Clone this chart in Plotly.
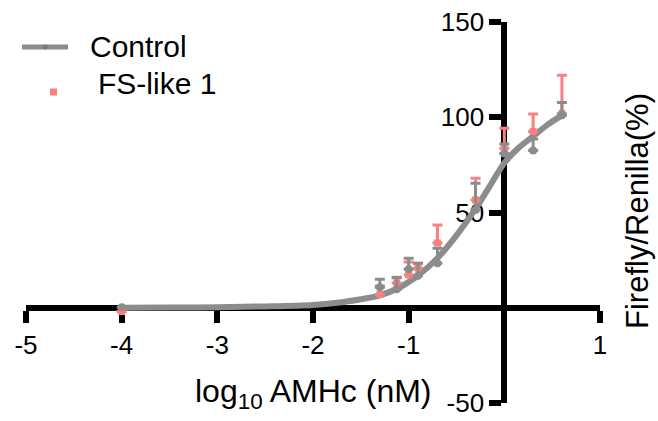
import plotly.graph_objects as go

# ---- data ----
log_conc = [-4.0, -1.301, -1.125, -1.0, -0.903, -0.699, -0.301, 0.0, 0.301, 0.602]
control_mean = [0.3, 10.7, 9.7, 20.2, 16.8, 23.3, 51.3, 81.0, 82.5, 101.0]
control_err = [0.0, 4.2, 6.1, 5.8, 6.5, 7.9, 14.0, 5.0, 6.1, 6.7]
fs_mean = [-2.0, 7.0, 13.0, 17.2, 20.8, 34.0, 56.6, 83.7, 92.5, 102.0]
fs_err = [0.0, 4.4, 3.0, 6.8, 2.5, 9.4, 11.4, 10.5, 9.2, 20.0]

# fitted curve
fit_x = [-4.0, -3.5, -3.0, -2.5, -2.0, -1.75, -1.5, -1.3, -1.1, -1.0, -0.9, -0.7, -0.5, -0.3, -0.15, 0.0, 0.15, 0.3, 0.45, 0.602]
fit_y = [0.0, 0.1, 0.3, 0.7, 1.5, 2.6, 4.5, 6.5, 10.5, 13.5, 17.0, 26.0, 38.0, 52.0, 64.0, 76.0, 84.0, 90.0, 96.0, 101.0]

x_ticks = [-5, -4, -3, -2, -1, 1]
x_ticktext = ["-5", "-4", "-3", "-2", "-1", "1"]
y_ticks = [-50, 50, 100, 150]
y_ticktext = ["-50", "50", "100", "150"]

GRAY = "#8c8c8c"
PINK = "#f88080"
FONT = "Liberation Sans, Arial, Helvetica, sans-serif"

W, H = 658, 421
ML, MR, MT, MB = 26, 58, 22, 18
PW, PH = W - ML - MR, H - MT - MB


def px2x(px):
    return (px - ML) / PW


def px2y(py):
    return (H - MB - py) / PH


fig = go.Figure()

fig.add_trace(go.Scatter(
    x=fit_x, y=fit_y, mode="lines", line=dict(color=GRAY, width=6, shape="spline"),
    showlegend=False, hoverinfo="skip"))

fig.add_trace(go.Scatter(
    x=log_conc, y=fs_mean, mode="markers",
    marker=dict(symbol="square", size=7, color=PINK),
    error_y=dict(type="data", symmetric=False, array=fs_err, arrayminus=[0] * len(fs_err),
                 color=PINK, thickness=3, width=5),
    showlegend=False))

fig.add_trace(go.Scatter(
    x=log_conc, y=control_mean, mode="markers",
    marker=dict(symbol="circle", size=8, color=GRAY),
    error_y=dict(type="data", symmetric=False, array=control_err, arrayminus=[0] * len(control_err),
                 color=GRAY, thickness=3, width=5),
    showlegend=False))

axis_common = dict(
    showline=True, linecolor="black", linewidth=6,
    ticks="outside", ticklen=12, tickwidth=6, tickcolor="black",
    showgrid=False, zeroline=False, layer="below traces", automargin=False,
    tickfont=dict(family=FONT, size=26, color="black"),
)

fig.update_layout(
    width=W, height=H,
    margin=dict(l=ML, r=MR, t=MT, b=MB),
    paper_bgcolor="white", plot_bgcolor="white",
    showlegend=False,
    xaxis=dict(range=[-5, 1], anchor="free", position=0.25,
               tickmode="array", tickvals=x_ticks, ticktext=x_ticktext, **axis_common),
    yaxis=dict(range=[-50, 150], anchor="free", position=5 / 6, side="left",
               tickmode="array", tickvals=y_ticks, ticktext=y_ticktext, **axis_common),
)

# axis titles
fig.add_annotation(xref="paper", yref="paper", x=0.5, y=px2y(393),
                   text="log<sub>10</sub> AMHc (nM)", showarrow=False,
                   xanchor="center", yanchor="middle",
                   font=dict(family=FONT, size=32, color="black"))
fig.add_annotation(xref="paper", yref="paper", x=px2x(637), y=px2y(211),
                   text="Firefly/Renilla(%)", showarrow=False, textangle=-90,
                   xanchor="center", yanchor="middle",
                   font=dict(family=FONT, size=31, color="black"))

# legend (drawn manually)
fig.add_shape(type="line", xref="paper", yref="paper",
              x0=px2x(22), x1=px2x(68), y0=px2y(47), y1=px2y(47),
              line=dict(color=GRAY, width=5))
fig.add_shape(type="circle", xref="paper", yref="paper",
              x0=px2x(42.5), x1=px2x(47.5), y0=px2y(49.5), y1=px2y(44.5),
              line=dict(width=0), fillcolor="#7a7a7a")
fig.add_shape(type="rect", xref="paper", yref="paper",
              x0=px2x(50), x1=px2x(57), y0=px2y(95.5), y1=px2y(88.5),
              line=dict(width=0), fillcolor=PINK)
fig.add_annotation(xref="paper", yref="paper", x=px2x(88), y=px2y(46),
                   text="Control", showarrow=False, xanchor="left", yanchor="middle",
                   font=dict(family=FONT, size=30, color="black"))
fig.add_annotation(xref="paper", yref="paper", x=px2x(96), y=px2y(84),
                   text="FS-like 1", showarrow=False, xanchor="left", yanchor="middle",
                   font=dict(family=FONT, size=30, color="black"))

fig.write_html("out.html")
